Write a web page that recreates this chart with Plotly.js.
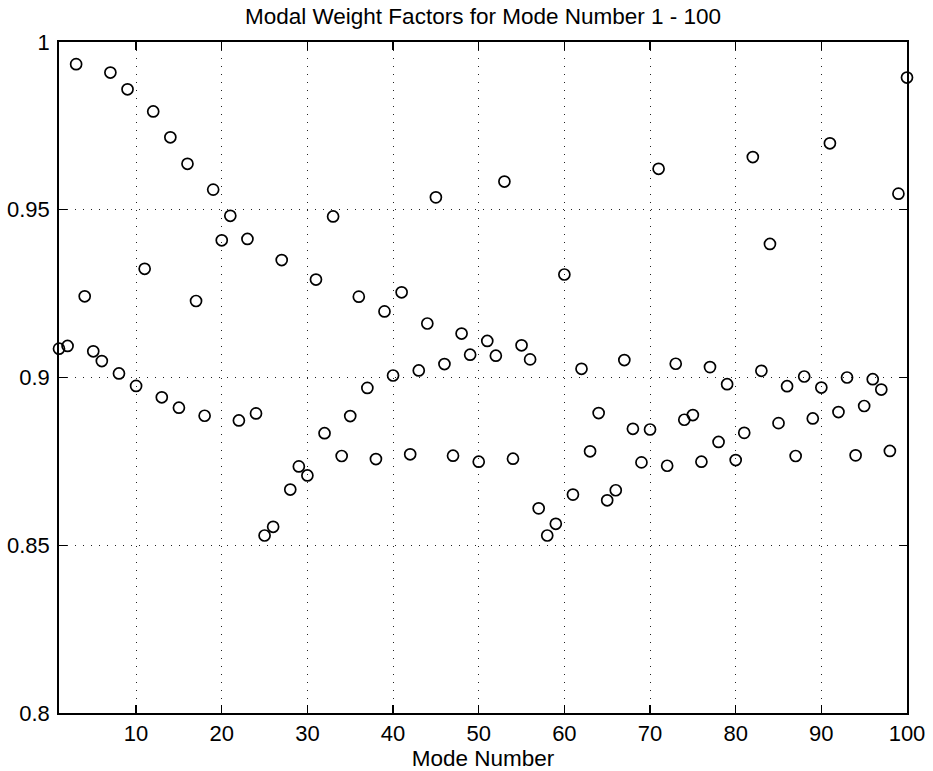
<!DOCTYPE html>
<html>
<head>
<meta charset="utf-8">
<script src="https://cdn.plot.ly/plotly-3.0.1.min.js"></script>
<style>html,body{margin:0;padding:0;background:#fff;}#chart{width:933px;height:771px;}</style>
</head>
<body>
<div id="chart"></div>
<script>
const modeNumbers = [];
for (let i = 1; i <= 100; i++) modeNumbers.push(i);

const weightFactors = [
  0.9086, 0.9094, 0.9934, 0.9242, 0.9078, 0.9049, 0.9909, 0.9012, 0.9859, 0.8975,
  0.9324, 0.9793, 0.8941, 0.9716, 0.8910, 0.9637, 0.9228, 0.8886, 0.9560, 0.9409,
  0.9482, 0.8872, 0.9413, 0.8893, 0.8529, 0.8555, 0.9350, 0.8666, 0.8735, 0.8708,
  0.9292, 0.8834, 0.9480, 0.8766, 0.8885, 0.9241, 0.8969, 0.8757, 0.9197, 0.9006,
  0.9254, 0.8771, 0.9021, 0.9161, 0.9537, 0.9040, 0.8767, 0.9131, 0.9068, 0.8749,
  0.9109, 0.9065, 0.9584, 0.8758, 0.9096, 0.9054, 0.8610, 0.8529, 0.8564, 0.9307,
  0.8651, 0.9026, 0.8780, 0.8894, 0.8634, 0.8664, 0.9052, 0.8847, 0.8747, 0.8845,
  0.9622, 0.8737, 0.9041, 0.8874, 0.8888, 0.8749, 0.9031, 0.8808, 0.8980, 0.8754,
  0.8835, 0.9657, 0.9020, 0.9398, 0.8864, 0.8974, 0.8766, 0.9003, 0.8878, 0.8970,
  0.9698, 0.8897, 0.9000, 0.8768, 0.8915, 0.8995, 0.8964, 0.8781, 0.9548, 0.9894
];

const xTickVals = [10, 20, 30, 40, 50, 60, 70, 80, 90, 100];
const yTickVals = [0.8, 0.85, 0.9, 0.95, 1];
const yTickText = ["0.8", "0.85", "0.9", "0.95", "1"];

const chartTitle = "Modal Weight Factors for Mode Number 1 - 100";
const xTitle = "Mode Number";

const fontFam = "Liberation Sans, Arial, Helvetica, sans-serif";

const trace = {
  x: modeNumbers,
  y: weightFactors,
  type: "scatter",
  mode: "markers",
  marker: {
    symbol: "circle-open",
    size: 11,
    color: "#000",
    line: {width: 1.7, color: "#000"}
  },
  cliponaxis: false,
  hoverinfo: "x+y"
};

const axisCommon = {
  automargin: false,
  showline: true,
  linecolor: "#000",
  linewidth: 1.8,
  mirror: "ticks",
  ticks: "inside",
  ticklen: 8,
  tickwidth: 1.4,
  tickcolor: "#000",
  showgrid: true,
  gridcolor: "#222",
  gridwidth: 1,
  griddash: "1px,7px",
  zeroline: false,
  tickfont: {family: fontFam, size: 22, color: "#000"}
};

const layout = {
  width: 933,
  height: 771,
  paper_bgcolor: "#fff",
  plot_bgcolor: "#fff",
  margin: {l: 59, r: 26, t: 42, b: 58},
  showlegend: false,
  title: {
    text: chartTitle,
    font: {family: fontFam, size: 22.5, color: "#000"},
    x: 0.5, xref: "paper",
    y: 0.979, yref: "container",
    xanchor: "center", yanchor: "middle"
  },
  xaxis: Object.assign({}, axisCommon, {
    range: [1, 100],
    tickvals: xTickVals,
    ticklabelstandoff: 0,
    title: {text: xTitle, font: {family: fontFam, size: 22.5, color: "#000"}, standoff: 0}
  }),
  yaxis: Object.assign({}, axisCommon, {
    range: [0.8, 1],
    tickvals: yTickVals,
    ticktext: yTickText,
    ticklabelstandoff: 3
  })
};

Plotly.newPlot("chart", [trace], layout, {displayModeBar: false, staticPlot: true});
</script>
</body>
</html>
